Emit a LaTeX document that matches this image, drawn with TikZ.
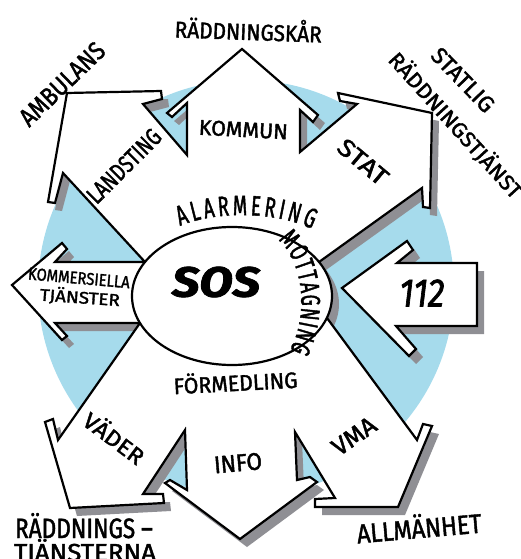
\documentclass[tikz,border=0pt]{standalone}
\usepackage{fontspec}
\usepackage{graphicx}
\newfontfamily\hand[FakeStretch=0.8, FakeBold=1.5]{Fira Sans}
\newfontfamily\handc[FakeStretch=0.65, FakeBold=1.5]{Fira Sans}
\usetikzlibrary{decorations.text}
\definecolor{skyb}{RGB}{166,219,236}
\definecolor{shad}{RGB}{143,143,148}
\newcommand\hw[3]{\resizebox{#1pt}{#2pt}{\hand #3}}
\def\starpath{(242,49) -- (318,115) -- (313,122) -- (300,110) -- (300,152) -- (357,104) -- (340,101) -- (338,93) -- (432,113) -- (430,208) -- (423,207) -- (422,188) -- (319,262) -- (327,318) -- (417,440) -- (423,424) -- (432,426) -- (398,507) -- (315,507) -- (315,499) -- (335,498) -- (295,432) -- (297,480) -- (310,477) -- (317,482) -- (240,539) -- (165,483) -- (170,480) -- (187,490) -- (185,430) -- (143,494) -- (163,494) -- (164,503) -- (70,508) -- (45,422) -- (53,419) -- (58,440) -- (140,323) -- (55,323) -- (67,336) -- (62,340) -- (12,285) -- (62,243) -- (67,249) -- (55,262) -- (145,262) -- (63,173) -- (55,203) -- (48,202) -- (67,93) -- (161,91) -- (162,99) -- (143,104) -- (187,155) -- (187,103) -- (172,117) -- (167,113) -- cycle}
\def\arrpath{(342,288) -- (407,241) -- (413,250) -- (397,263) -- (477,263) -- (477,326) -- (396,326) -- (416,349) -- (409,356) -- cycle}
\begin{document}
\begin{tikzpicture}[x=1pt,y=-1pt,
  outl/.style={draw=black, line width=2.2pt, line join=miter, fill=white},
  lbl/.style={inner sep=0pt, text=black}]
\useasboundingbox (0,0) rectangle (521,559);
\fill[skyb] (246,288) circle[radius=208];
\begin{scope}[shift={(7,8)}]
  \fill[shad] \starpath;
  \fill[shad] \arrpath;
  \fill[shad] (232,296) ellipse[x radius=100, y radius=69];
\end{scope}
\filldraw[outl] \starpath;
\filldraw[outl] \arrpath;
\filldraw[outl] (232,296) ellipse[x radius=100, y radius=69];
% labels
\node[lbl, anchor=base, rotate=-2] (rk) at (248,40) {\hw{147}{22}{RÄDDNINGSKÅR}};
\node[lbl, rotate=44] (amb) at (62,84) {\hw{108}{18}{AMBULANS}};
\node[lbl, rotate=45] (lan) at (124,166) {\hw{94}{17}{LANDSTING}};
\node[lbl, anchor=base, rotate=-3] (kom) at (243,137) {\hw{89}{15}{KOMMUN}};
\node[lbl, rotate=-40] (stat) at (363,162) {\hw{58}{17}{STAT}};
\node[lbl, rotate=-46] (stl) at (463,80) {\hw{80}{16}{STATLIG}};
\node[lbl, rotate=-48] (rtj) at (456,125) {\hw{188}{19}{RÄDDNINGSTJÄNST}};
\node[lbl] (sos) at (216,282) {\resizebox{88pt}{30pt}{\hand\bfseries\itshape SOS}};
\node[lbl, rotate=-5] (kms) at (79,278) {\hw{102}{12}{KOMMERSIELLA}};
\node[lbl, rotate=-4] (tjs) at (80,297) {\hw{80}{15}{TJÄNSTER}};
\node[lbl] (nr) at (422,293) {\resizebox{45pt}{27pt}{\hand\itshape 112}};
\node[lbl, anchor=base, rotate=3] (frm) at (236,391) {\hw{124}{20}{FÖRMEDLING}};
\node[lbl, rotate=-37] (vad) at (115,437) {\hw{70}{20}{VÄDER}};
\node[lbl, rotate=5] (info) at (238,463) {\hw{48}{17}{INFO}};
\node[lbl, rotate=35] (vma) at (354,436) {\hw{48}{17}{VMA}};
\node[lbl, anchor=base, rotate=5] (allm) at (420,538) {\hw{125}{24}{ALLMÄNHET}};
\node[lbl, anchor=base] (rdd1) at (84,538) {\hw{138}{25}{RÄDDNINGS –}};
\node[lbl, anchor=base] (rdd2) at (85,561) {\hw{142}{22}{TJÄNSTERNA}};
\path[decorate, decoration={text along path,
  text={|\handc\fontsize{28}{28}\selectfont|ALARMERING}, text align={fit to path}}]
  (180,226) .. controls (215,211) and (275,211) .. (312,229);
\path[decorate, decoration={text along path,
  text={|\handc\fontsize{27}{27}\selectfont|MOTTAGNING}, text align={fit to path}}]
  (278,240) .. controls (302,260) and (310,312) .. (290,350);
\end{tikzpicture}
\end{document}
